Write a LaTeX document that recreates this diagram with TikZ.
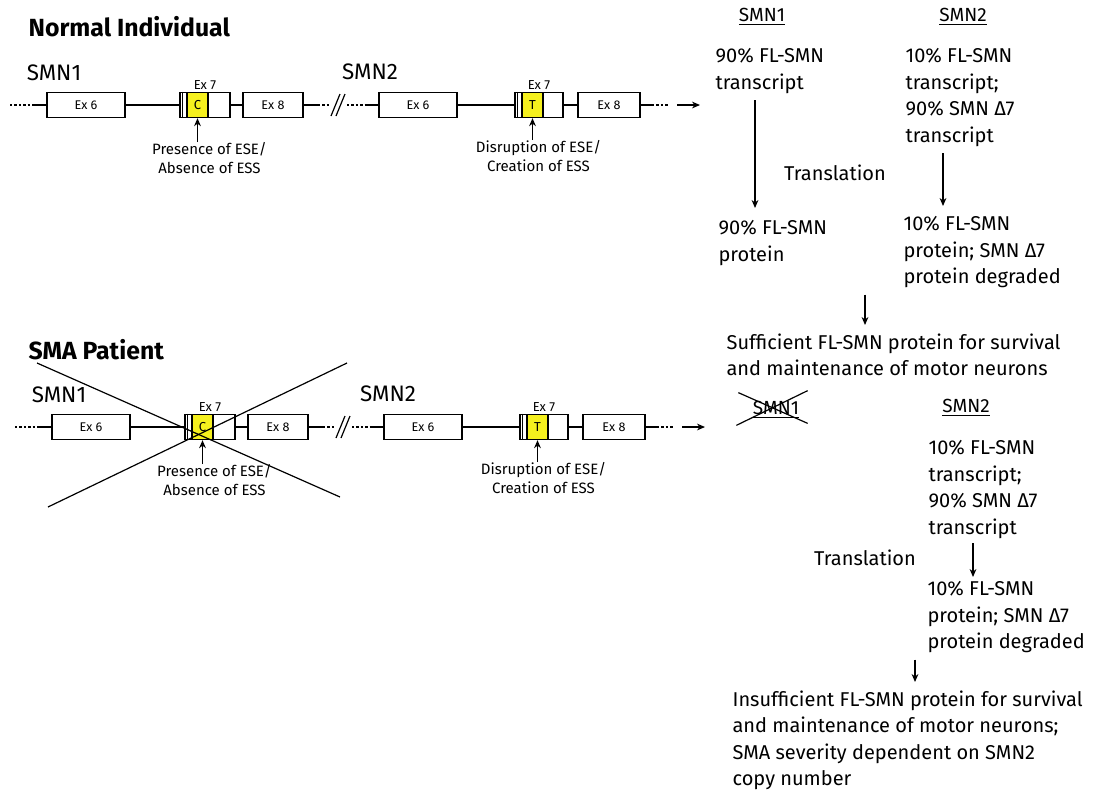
\documentclass[tikz,border=0pt]{standalone}
\usepackage{fontspec}
\setmainfont{Fira Sans}
\usetikzlibrary{arrows.meta, positioning, calc}
\definecolor{SiteYellow}{RGB}{245,240,30}

\tikzset{
  exon/.style={draw, line width=0.7pt, minimum height=12.5pt, inner sep=0pt, font=\fontsize{6.3}{7}\selectfont},
  site/.style={draw, line width=0.7pt, fill=SiteYellow, minimum width=10.5pt, minimum height=12.5pt, inner sep=0pt, font=\fontsize{6.5}{7}\selectfont},
  note/.style={font=\fontsize{7.5}{9.5}\selectfont, align=center, inner sep=0pt},
  genename/.style={font=\fontsize{11.2}{13}\selectfont, inner sep=0pt},
  head/.style={font=\fontsize{9.5}{12}\selectfont, inner sep=0pt},
  body/.style={font=\fontsize{10}{13.25}\selectfont, align=left, inner sep=0pt, anchor=north west},
  title/.style={font=\fontsize{12.4}{14}\selectfont\bfseries, inner sep=0pt, anchor=west},
  flow/.style={-{Stealth[length=4pt,width=3.4pt]}, line width=0.6pt},
  dotline/.style={line width=0.6pt, dash pattern=on 1.2pt off 1pt},
}

\begin{document}
\begin{tikzpicture}[x=0.5pt, y=-0.5pt, line width=0.6pt]
\useasboundingbox (0,0) rectangle (1098,793);

% headings
\node[title] (t-norm) at (28,27) {Normal Individual};
\node[title] (t-sma) at (28,350) {SMA Patient};

% the two gene rows
\foreach \r/\y/\d/\g in {n/105/0/370, s/427/5/388} {
  \node[genename] (\r-g1) at (54+\d,\y-32) {SMN1};
  \node[genename] (\r-g2) at (\g,\y-33) {SMN2};

  \node[exon, minimum width=39pt] (\r-e6a) at (86+\d,\y) {Ex 6};
  \node[exon, minimum width=25pt] (\r-e7a) at (205+\d,\y) {};
  \draw ([xshift=1.5pt]\r-e7a.north west) -- ([xshift=1.5pt]\r-e7a.south west);
  \node[site, right=3.5pt of \r-e7a.west] (\r-c) {C};
  \node[exon, minimum width=30pt] (\r-e8a) at (273+\d,\y) {Ex 8};
  \node[exon, minimum width=39pt] (\r-e6b) at (418+\d,\y) {Ex 6};
  \node[exon, minimum width=24pt] (\r-e7b) at (539+\d,\y) {};
  \draw ([xshift=1.5pt]\r-e7b.north west) -- ([xshift=1.5pt]\r-e7b.south west);
  \node[site, right=3.5pt of \r-e7b.west] (\r-t) {T};
  \node[exon, minimum width=31pt] (\r-e8b) at (609+\d,\y) {Ex 8};

  \node[note, above=1pt of \r-e7a, font=\fontsize{6.5}{7}\selectfont] (\r-l7a) {Ex 7};
  \node[note, above=1pt of \r-e7b, font=\fontsize{6.5}{7}\selectfont] (\r-l7b) {Ex 7};

  % introns and flanks
  \draw[dotline] (10+\d,\y) -- (32+\d,\y);
  \draw (32+\d,\y) -- (\r-e6a.west);
  \draw (\r-e6a.east) -- (\r-e7a.west);
  \draw (\r-e7a.east) -- (\r-e8a.west);
  \draw (\r-e8a.east) -- (318+\d,\y);
  \draw[dotline] (318+\d,\y) -- (331+\d,\y);
  \draw (331+\d,\y+11) -- (340+\d,\y-11);
  \draw (336+\d,\y+11) -- (345+\d,\y-11);
  \draw[dotline] (347+\d,\y) -- (366+\d,\y);
  \draw (366+\d,\y) -- (\r-e6b.west);
  \draw (\r-e6b.east) -- (\r-e7b.west);
  \draw (\r-e7b.east) -- (\r-e8b.west);
  \draw (\r-e8b.east) -- (652+\d,\y);
  \draw[dotline] (652+\d,\y) -- (668+\d,\y);
  \draw[flow] (677+\d,\y) -- (700+\d,\y);

  % splicing elements
  \node[note, below=12pt of \r-c, xshift=6pt] (\r-ese) {Presence of ESE/\\Absence of ESS};
  \node[note, below=11pt of \r-t, xshift=3pt] (\r-ess) {Disruption of ESE/\\Creation of ESS};
  \draw[flow] (\r-c |- \r-ese.north) -- (\r-c);
  \draw[flow] (\r-t |- \r-ess.north) -- (\r-t);
}

% SMN1 deleted in the patient
\draw (37,363) -- (340,497);
\draw (48,507) -- (347,363);

% normal individual: outcome
\node[head] (rn-h1) at (762,17) {\underline{SMN1}};
\node[head] (rn-h2) at (963,17) {\underline{SMN2}};
\node[body] (rn-t1) at (715,48) {90\% FL-SMN\\transcript};
\node[body] (rn-t2) at (905,48) {10\% FL-SMN\\transcript;\\90\% SMN Δ7\\transcript};
\node[body, anchor=center] (rn-tr) at (835,173) {Translation};
\node[body] (rn-p1) at (718,220) {90\% FL-SMN\\protein};
\node[body] (rn-p2) at (903,216) {10\% FL-SMN\\protein; SMN Δ7\\protein degraded};
\node[body] (rn-out) at (726,333) {Sufficient FL-SMN protein for survival\\and maintenance of motor neurons};

\coordinate (x1) at (755,0);
\coordinate (x2) at (943,0);
\coordinate (x3) at (865,0);
\draw[flow, shorten <=3pt, shorten >=6pt] (x1 |- rn-t1.south) -- (x1 |- rn-p1.north);
\draw[flow, shorten <=3pt, shorten >=5pt] (x2 |- rn-t2.south) -- (x2 |- rn-p2.north);
\draw[flow, shorten <=3pt, shorten >=4pt] (x3 |- rn-p2.south) -- (x3 |- rn-out.north);

% SMA patient: outcome
\node[head] (rs-h1) at (776,410) {\underline{SMN1}};
\draw ([shift={(-14,-8)}]rs-h1.north west) -- ([shift={(8,4)}]rs-h1.south east);
\draw ([shift={(-16,6)}]rs-h1.south west) -- ([shift={(8,-10)}]rs-h1.north east);
\node[head] (rs-h2) at (966,408) {\underline{SMN2}};
\node[body] (rs-t2) at (928,440) {10\% FL-SMN\\transcript;\\90\% SMN Δ7\\transcript};
\node[body, anchor=center] (rs-tr) at (865,558) {Translation};
\node[body] (rs-p2) at (927,581) {10\% FL-SMN\\protein; SMN Δ7\\protein degraded};
\node[body] (rs-out) at (732,690) {Insufficient FL-SMN protein for survival\\and maintenance of motor neurons;\\SMA severity dependent on SMN2\\copy number};

\coordinate (x4) at (973,0);
\coordinate (x5) at (915,0);
\draw[flow, shorten <=2pt, shorten >=2pt] (x4 |- rs-t2.south) -- (x4 |- rs-p2.north);
\draw[flow, shorten <=3pt, shorten >=4pt] (x5 |- rs-p2.south) -- (x5 |- rs-out.north);
\end{tikzpicture}
\end{document}
